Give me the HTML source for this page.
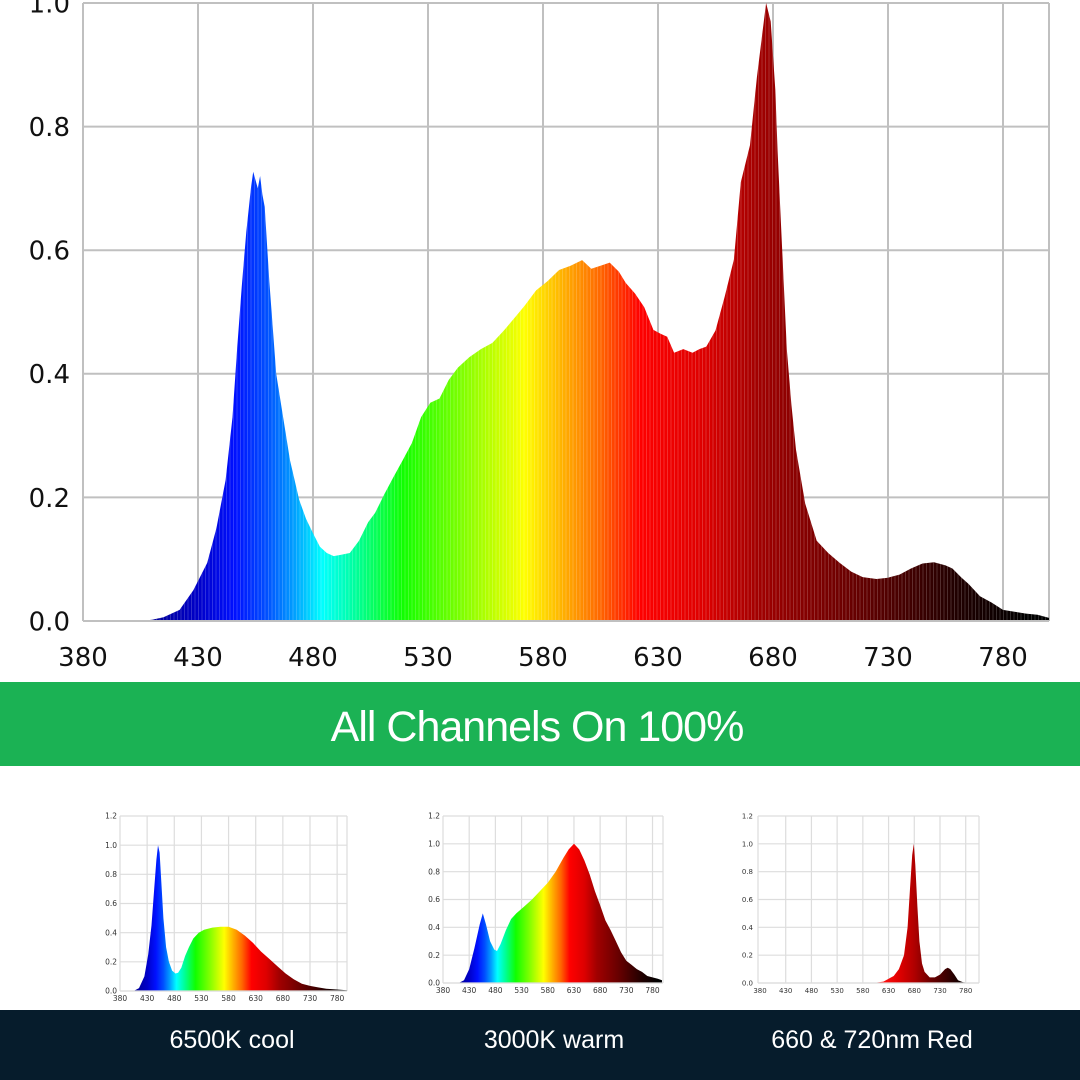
<!DOCTYPE html>
<html><head><meta charset="utf-8"><style>
html,body{margin:0;padding:0;width:1080px;height:1080px;overflow:hidden;background:#fff;font-family:"DejaVu Sans","Liberation Sans",sans-serif}
svg{position:absolute;left:0;top:0}
</style></head><body>
<svg id="s" width="1080" height="1080" viewBox="0 0 1080 1080" xmlns="http://www.w3.org/2000/svg">
<defs></defs>
<rect x="0" y="682" width="1080" height="84" fill="#1bb254"/>
<text x="537" y="741" fill="#fff" font-family="Liberation Sans,sans-serif" font-size="43" text-anchor="middle" letter-spacing="-1">All Channels On 100%</text>
<rect x="0" y="1010" width="1080" height="70" fill="#061c2c"/>
<g fill="#fff" font-family="Liberation Sans,sans-serif" font-size="25" text-anchor="middle">
<text x="232" y="1048">6500K cool</text>
<text x="554" y="1048">3000K warm</text>
<text x="872" y="1048">660 &amp; 720nm Red</text>
</g>
</svg>
<script>
var NS="http://www.w3.org/2000/svg",s=document.getElementById('s'),defs=s.querySelector('defs');
function el(t,a,p){var e=document.createElementNS(NS,t);for(var k in a)e.setAttribute(k,a[k]);(p||s).appendChild(e);return e;}
var stops=[[380,'#000060'],[400,'#000080'],[430,'#0000c8'],[446,'#0010ff'],[460,'#0050ff'],[472,'#00a0ff'],[484,'#00ffff'],[500,'#00ff90'],[519,'#10ff00'],[545,'#80ff00'],[572,'#ffff00'],[590,'#ffaa00'],[605,'#ff6600'],[622,'#ff0000'],[650,'#dd0000'],[674,'#a00000'],[720,'#600000'],[760,'#200000'],[790,'#000000'],[800,'#000000']];
var cid=0;
function chart(o){
 var L=o.left,R=o.right,T=o.top,B=o.yb;
 function X(nm){return o.x0+(nm-380)*(o.x800-o.x0)/420;}
 function Y(v){return B-(v/o.vmax)*(B-T);}
 var g=el('linearGradient',{id:'g'+cid,gradientUnits:'userSpaceOnUse',x1:X(380),x2:X(800),y1:0,y2:0},defs);
 (o.stops||stops).forEach(function(st){el('stop',{offset:((st[0]-380)/420),'stop-color':st[1]},g);});
 for(var v=0;v<=o.vmax+1e-6;v+=0.2){el('line',{x1:L,x2:R,y1:Y(v),y2:Y(v),stroke:o.gc,'stroke-width':o.gw});
   var t=el('text',{x:o.lx,y:Y(v)+o.fs*0.36,'font-size':o.fs,'text-anchor':'end',fill:o.tc});t.textContent=v.toFixed(1);}
 for(var nm=380;nm<=780;nm+=50){ if(nm>380) el('line',{x1:X(nm),x2:X(nm),y1:T,y2:B,stroke:o.gc,'stroke-width':o.gw});
   var t=el('text',{x:X(nm),y:o.ly,'font-size':o.fs,'text-anchor':'middle',fill:o.tc});t.textContent=nm;}
 el('line',{x1:L,x2:L,y1:T,y2:B,stroke:o.gc,'stroke-width':o.gw});
 el('line',{x1:R,x2:R,y1:T,y2:B,stroke:o.gc,'stroke-width':o.gw});
 var d='M'+X(o.pts[0][0])+','+B;
 o.pts.forEach(function(p){d+=' L'+X(p[0]).toFixed(1)+','+Y(p[1]).toFixed(1);});
 d+=' L'+X(o.pts[o.pts.length-1][0])+','+B+' Z';
 el('path',{d:d,fill:'url(#g'+cid+')'});
 if(o.stripe){var cp=el('clipPath',{id:'c'+cid},defs);el('path',{d:d},cp);
  var gg=el('g',{'clip-path':'url(#c'+cid+')',stroke:'#fff','stroke-opacity':'0.18','stroke-width':'1'});
  for(var x=L;x<R;x+=o.stripe)el('line',{x1:x,x2:x,y1:T,y2:B},gg);}
 el('line',{x1:L,x2:R,y1:B,y2:B,stroke:o.gc,'stroke-width':o.gw});
 cid++;
}
var main=[[405,0],[410,0.002],[415,0.006],[422,0.018],[428,0.05],[434,0.094],[438,0.15],[442,0.228],[445,0.33],[447,0.44],[449,0.54],[451,0.63],[453,0.70],[454,0.727],[456,0.70],[457,0.72],[458,0.69],[459,0.67],[461,0.55],[464,0.40],[467,0.33],[470,0.26],[474,0.196],[477,0.165],[480,0.142],[483,0.12],[486,0.11],[489,0.105],[492,0.107],[496,0.11],[500,0.13],[504,0.16],[507,0.175],[511,0.205],[515,0.233],[519,0.26],[523,0.288],[527,0.33],[531,0.353],[535,0.36],[539,0.39],[543,0.41],[548,0.427],[553,0.44],[558,0.45],[563,0.47],[568,0.492],[572,0.51],[577,0.535],[582,0.55],[587,0.568],[592,0.575],[597,0.584],[601,0.57],[605,0.575],[609,0.58],[613,0.565],[616,0.547],[620,0.53],[624,0.508],[628,0.471],[631,0.465],[634,0.46],[637,0.434],[641,0.44],[645,0.434],[648,0.44],[651,0.444],[655,0.47],[659,0.525],[663,0.585],[666,0.71],[670,0.77],[673,0.88],[676,0.97],[677,1.0],[679,0.97],[681,0.86],[682,0.76],[684,0.6],[686,0.44],[688,0.35],[690,0.277],[694,0.19],[699,0.13],[704,0.11],[709,0.094],[714,0.08],[719,0.071],[725,0.068],[730,0.07],[735,0.075],[740,0.085],[745,0.093],[750,0.095],[755,0.09],[758,0.085],[762,0.07],[765,0.06],[770,0.04],[775,0.03],[780,0.018],[785,0.015],[790,0.012],[795,0.01],[800,0.005]];
chart({left:83,right:1049,top:3,yb:621,x0:83,x800:1049,vmax:1.0,gc:'#c0c0c0',gw:2,fs:26,tc:'#111',lx:70,ly:666,pts:main,stripe:3.5});
var p1=[[405,0],[415,0.02],[425,0.1],[432,0.25],[438,0.45],[443,0.7],[447,0.9],[450,1.0],[453,0.95],[456,0.75],[460,0.5],[465,0.3],[470,0.2],[476,0.14],[482,0.12],[487,0.125],[493,0.16],[500,0.24],[507,0.3],[515,0.36],[525,0.4],[535,0.42],[550,0.435],[565,0.44],[580,0.44],[595,0.42],[610,0.38],[625,0.33],[640,0.27],[655,0.22],[670,0.17],[685,0.12],[700,0.08],[715,0.05],[730,0.035],[745,0.025],[760,0.015],[780,0.01],[798,0.005]];
var p2=[[410,0],[420,0.02],[430,0.1],[440,0.25],[450,0.42],[456,0.5],[462,0.42],[470,0.3],[478,0.24],[483,0.23],[490,0.28],[500,0.38],[510,0.46],[520,0.5],[535,0.55],[550,0.6],[565,0.66],[580,0.72],[595,0.8],[610,0.9],[620,0.96],[630,1.0],[640,0.96],[650,0.88],[660,0.78],[670,0.66],[680,0.56],[690,0.45],[700,0.38],[710,0.3],[720,0.22],[730,0.16],[740,0.13],[750,0.1],[760,0.08],[770,0.05],[780,0.04],[790,0.03],[798,0.02]];
var p3=[[600,0],[620,0.01],[640,0.05],[650,0.1],[660,0.2],[667,0.4],[672,0.7],[676,0.92],[679,1.0],[682,0.85],[686,0.55],[690,0.3],[695,0.14],[700,0.08],[710,0.04],[720,0.04],[730,0.06],[740,0.1],[745,0.11],[750,0.1],[758,0.06],[765,0.02],[775,0.005],[790,0]];
var redStops=[[380,'#ff2020'],[620,'#ff1010'],[650,'#e00000'],[680,'#b00000'],[710,'#700000'],[750,'#300000'],[780,'#000000'],[800,'#000000']];
chart({left:120,right:347,top:816,yb:991,x0:120,x800:348,vmax:1.2,gc:'#dddddd',gw:1.2,fs:7.5,tc:'#333',lx:117,ly:1001,pts:p1});
chart({left:443,right:663,top:816,yb:983,x0:443,x800:663,vmax:1.2,gc:'#dddddd',gw:1.2,fs:7.5,tc:'#333',lx:440,ly:993,pts:p2});
chart({left:758,right:979,top:816,yb:983,x0:760,x800:976,vmax:1.2,gc:'#dddddd',gw:1.2,fs:7,tc:'#333',lx:753,ly:993,pts:p3,stops:redStops});
</script>
</body></html>
